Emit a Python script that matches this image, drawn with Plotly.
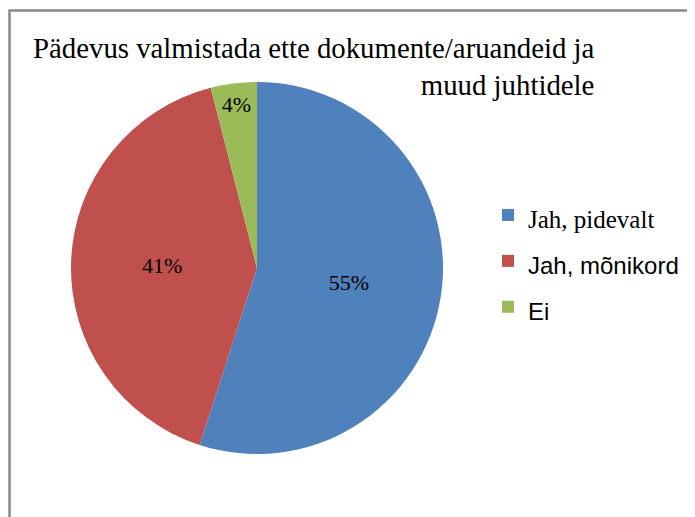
import plotly.graph_objects as go

categories = ["Jah, pidevalt", "Jah, mõnikord", "Ei"]
values = [55, 41, 4]
colors = ["#4F81BD", "#C0504D", "#9BBB59"]
legend_fonts = ["Liberation Serif", "Liberation Sans", "Liberation Sans"]
legend_sizes = [25, 24, 24]
title_text = "Pädevus valmistada ette dokumente/aruandeid ja<br>muud juhtidele"

W, H = 695, 517
OFF = 8  # page body margin offset

legend_labels = [
    f'<span style="font-size:{s}px;font-family:{f}">{c}</span>'
    for c, f, s in zip(categories, legend_fonts, legend_sizes)
]

cx, cy, r = 257 - OFF, 268 - OFF, 186

fig = go.Figure(
    go.Pie(
        labels=legend_labels,
        values=values,
        sort=False,
        direction="clockwise",
        rotation=0,
        marker=dict(colors=colors, line=dict(width=0)),
        textinfo="percent",
        texttemplate="%{percent:.0%}",
        textposition="inside",
        insidetextorientation="horizontal",
        textfont=dict(family="Liberation Serif", size=22, color="#000000"),
        domain=dict(x=[(cx - r) / W, (cx + r) / W], y=[1 - (cy + r) / H, 1 - (cy - r) / H]),
        hoverinfo="skip",
    )
)

fig.update_layout(
    width=W,
    height=H,
    margin=dict(l=0, r=0, t=0, b=0),
    paper_bgcolor="white",
    plot_bgcolor="white",
    showlegend=True,
    legend=dict(
        x=(526 - OFF - 38) / W,
        xanchor="left",
        y=1 - (187 - OFF) / H,
        yanchor="top",
        font=dict(size=33, color="#000000", family="Liberation Serif"),
        bgcolor="rgba(0,0,0,0)",
    ),
    annotations=[
        dict(
            text=title_text,
            x=(597 - OFF) / W,
            y=1 - (29.5 - OFF) / H,
            xref="paper",
            yref="paper",
            xanchor="right",
            yanchor="top",
            align="right",
            showarrow=False,
            font=dict(family="Liberation Serif", size=28.8, color="#000000"),
        )
    ],
    shapes=[
        dict(
            type="rect",
            xref="paper",
            yref="paper",
            x0=(9.5 - OFF) / W,
            x1=1.05,
            y0=-0.05,
            y1=1 - (10.5 - OFF) / H,
            line=dict(color="#888888", width=2.5),
            fillcolor="rgba(0,0,0,0)",
        )
    ],
)

fig.write_html("out.html")
